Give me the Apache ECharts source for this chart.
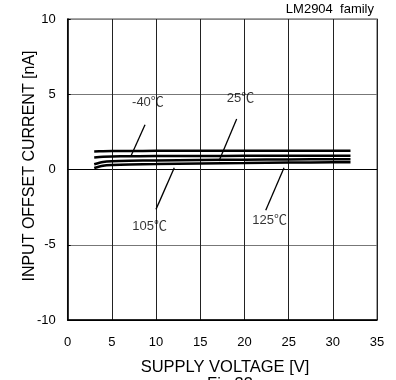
<!DOCTYPE html>
<html>
<head>
<meta charset="utf-8">
<script src="https://cdn.jsdelivr.net/npm/echarts@6/dist/echarts.min.js"></script>
<style>html,body{margin:0;padding:0;background:#fff}#c{width:396px;height:380px}</style>
</head>
<body>
<div id="c"></div>
<script>
var voltages = [3, 4, 5, 7, 10, 15, 20, 25, 30, 32];
var iosMinus40 = [1.20, 1.22, 1.23, 1.23, 1.24, 1.24, 1.24, 1.24, 1.24, 1.24];
var ios25 = [0.80, 0.85, 0.87, 0.88, 0.90, 0.90, 0.91, 0.92, 0.92, 0.92];
var ios105 = [0.35, 0.50, 0.55, 0.58, 0.60, 0.63, 0.65, 0.67, 0.68, 0.68];
var ios125 = [0.10, 0.25, 0.30, 0.34, 0.36, 0.40, 0.43, 0.46, 0.48, 0.48];
var xTicks = [0, 5, 10, 15, 20, 25, 30, 35];
var yTicks = [-10, -5, 0, 5, 10];
var tempLabels = ['-40℃', '25℃', '105℃', '125℃'];
var labelPos = [[9.08, 4.43], [19.55, 4.70], [9.28, -3.81], [22.86, -3.41]];
var pointerFrom = [[8.75, 2.97], [19.12, 3.35], [9.99, -2.65], [22.41, -2.70]];
var pointerTo = [[7.16, 0.90], [17.12, 0.57], [12.06, 0.12], [24.48, 0.12]];

var FONT = 'Arial, "Liberation Sans", "Noto Sans CJK JP", sans-serif';
function pairs(ys) { return voltages.map(function (v, i) { return [v, ys[i]]; }); }

var chart = echarts.init(document.getElementById('c'), null, { renderer: 'canvas' });
var curveStyle = { color: '#000', width: 2.5 };
var series = [iosMinus40, ios25, ios105, ios125].map(function (d, i) {
  return {
    name: tempLabels[i], type: 'line', data: pairs(d), showSymbol: false, symbol: 'none',
    smooth: 0.3, lineStyle: curveStyle, itemStyle: { color: '#000' }, z: 5, silent: true
  };
});
series.push({
  type: 'scatter', name: 'labels', silent: true, symbolSize: 1,
  itemStyle: { color: 'transparent' },
  data: labelPos.map(function (p, i) { return [p[0], p[1], tempLabels[i]]; }),
  label: {
    show: true, position: 'inside', color: '#000', fontSize: 13, fontFamily: FONT,
    formatter: function (p) { return p.value[2]; }
  },
  markLine: {
    silent: true, symbol: 'none', animation: false,
    lineStyle: { color: '#000', width: 1.3, type: 'solid' },
    label: { show: false },
    data: pointerFrom.map(function (p, i) { return [{ coord: p }, { coord: pointerTo[i] }]; })
  }
});

chart.setOption({
  animation: false,
  backgroundColor: '#fff',
  grid: { left: 67.7, right: 19, top: 19, bottom: 60, show: true, borderColor: '#888', borderWidth: 1.5 },
  xAxis: {
    type: 'value', min: xTicks[0], max: xTicks[xTicks.length - 1], interval: 5,
    axisLine: { show: true, onZero: false, lineStyle: { color: '#000', width: 1.5 } },
    axisTick: { show: false },
    axisLabel: { color: '#000', fontSize: 13, fontFamily: FONT, margin: 16 },
    splitLine: { show: true, lineStyle: { color: '#222', width: 1 } }
  },
  yAxis: {
    type: 'value', min: yTicks[0], max: yTicks[yTicks.length - 1], interval: 5,
    axisLine: { show: true, onZero: false, lineStyle: { color: '#000', width: 1.5 } },
    axisTick: { show: true, inside: true, length: 3, lineStyle: { color: '#000' } },
    axisLabel: { color: '#000', fontSize: 13, fontFamily: FONT, margin: 12 },
    splitLine: { show: true, lineStyle: { color: ['#000', '#777', '#000', '#777', '#888'], width: 1 } }
  },
  graphic: [
    { type: 'text', right: 22, top: 3, style: { text: 'LM2904  family', fill: '#000', font: '13px ' + FONT } },
    { type: 'text', x: 30, y: 166, rotation: Math.PI / 2,
      style: { text: 'INPUT OFFSET CURRENT [nA]', fill: '#000', font: '16px ' + FONT, align: 'center', verticalAlign: 'middle' } },
    { type: 'text', x: 225, y: 367,
      style: { text: 'SUPPLY VOLTAGE [V]', fill: '#000', font: '16.5px ' + FONT, align: 'center', verticalAlign: 'middle' } },
    { type: 'text', x: 230, y: 376,
      style: { text: 'Fig.33', fill: '#000', font: '16.5px ' + FONT, align: 'center', verticalAlign: 'top' } }
  ],
  series: series
});
</script>
</body>
</html>
